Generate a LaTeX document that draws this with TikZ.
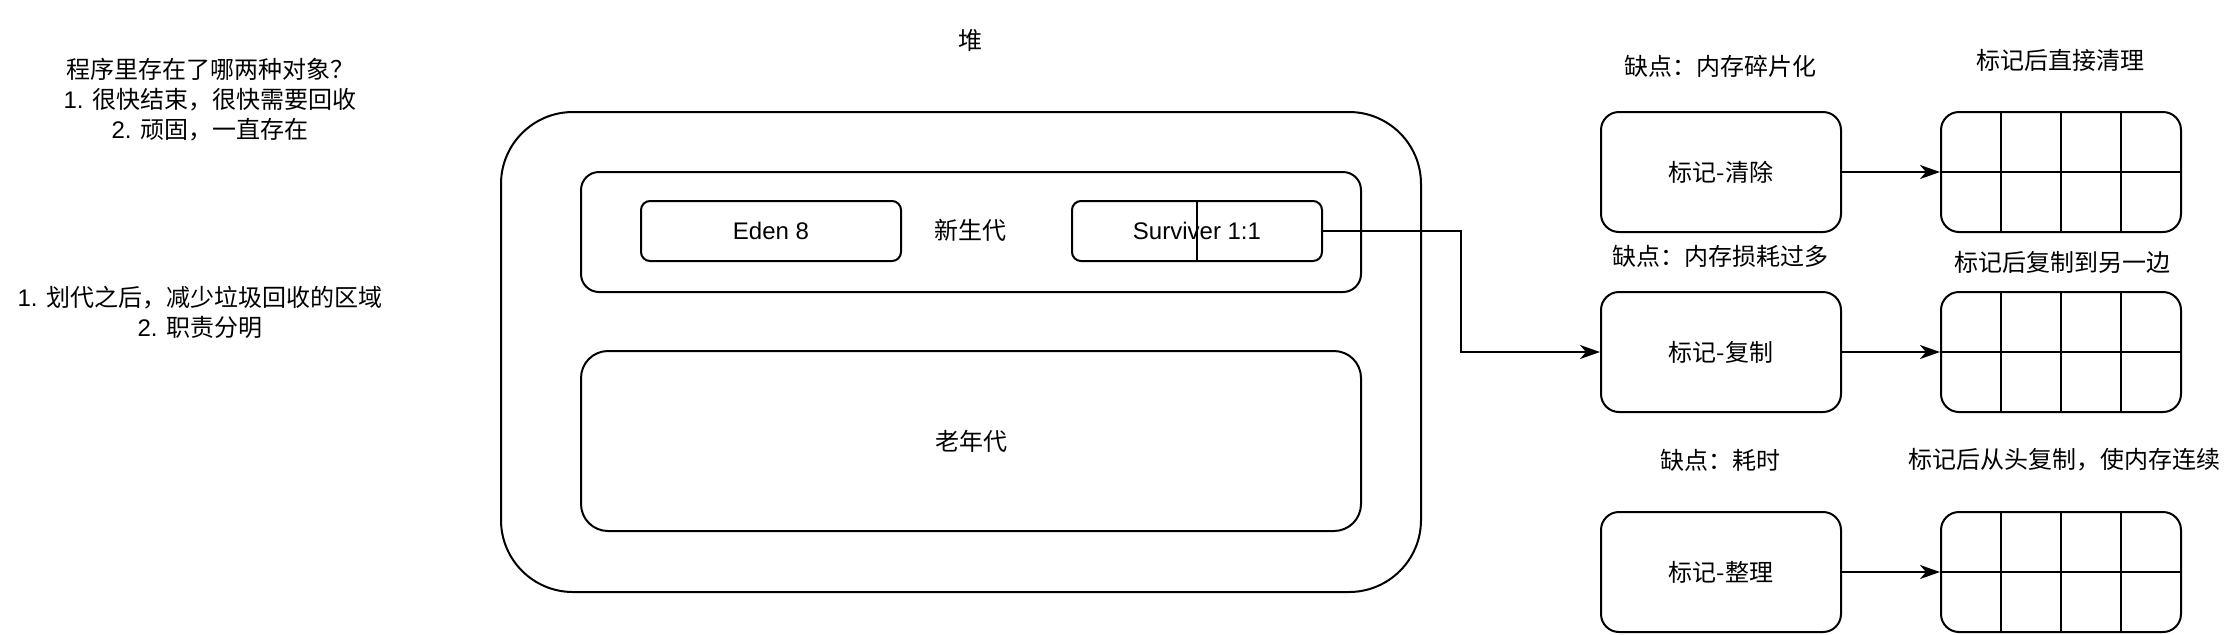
\documentclass[tikz,border=0pt]{standalone}
\usepackage{fontspec}
\setmainfont{Noto Sans CJK SC}
\newfontfamily\lat{Liberation Sans}
\usetikzlibrary{arrows.meta}
\tikzset{
  base/.style={font=\fontsize{12pt}{15pt}\selectfont, inner sep=0pt, align=center},
  rbox/.style={base, draw, rounded corners=#1},
  lbl/.style={base},
  arr/.style={-{Stealth[length=10pt,width=7pt,inset=3pt]}},
}
\begin{document}
\begin{tikzpicture}[x=1pt,y=-1pt,line width=1pt]
\useasboundingbox (0,0) rectangle (1120,317);

% heap
\node[lbl] (heaplbl) at (485,20) {堆};
\node[rbox=36pt, minimum width=460pt, minimum height=240pt] (heap) at (480.5,176) {};
\node[rbox=9pt, minimum width=390pt, minimum height=60pt] (young) at (485.5,116) {};
\node[lbl] (younglbl) at (485,115) {新生代};
\node[rbox=4.5pt, minimum width=130pt, minimum height=30pt] (eden) at (385.5,115.5) {\lat Eden 8};
\node[rbox=4.5pt, minimum width=125pt, minimum height=30pt] (surv) at (598.5,115.5) {\lat Surviver 1:1};
\draw (surv.north) -- (surv.south);
\node[rbox=13.5pt, minimum width=390pt, minimum height=90pt] (old) at (485.5,220.5) {老年代};

% left notes
\node[lbl] (note1) at (105,50) {程序里存在了哪两种对象？\\{\lat 1. }很快结束，很快需要回收\\{\lat 2. }顽固，一直存在};
\node[lbl] (note2) at (100,156) {{\lat 1. }划代之后，减少垃圾回收的区域\\{\lat 2. }职责分明};

% algorithms
\node[rbox=9pt, minimum width=120pt, minimum height=60pt] (clear) at (860.5,86) {标记-清除};
\node[rbox=9pt, minimum width=120pt, minimum height=60pt] (copy) at (860.5,176) {标记-复制};
\node[rbox=9pt, minimum width=120pt, minimum height=60pt] (tidy) at (860.5,286) {标记-整理};

\node[lbl] (c1) at (860,33) {缺点：内存碎片化};
\node[lbl] (c2) at (860,128) {缺点：内存损耗过多};
\node[lbl] (c3) at (860,230) {缺点：耗时};

\node[lbl] (d1) at (1030,30) {标记后直接清理};
\node[lbl] (d2) at (1031,131) {标记后复制到另一边};
\node[lbl] (d3) at (1032,230) {标记后从头复制，使内存连续};

% grids
\foreach \n/\y in {g1/86,g2/176,g3/286}{
  \node[rbox=9pt, minimum width=120pt, minimum height=60pt] (\n) at (1030.5,\y) {};
  \draw (\n.west) -- (\n.east);
  \foreach \dx in {-30,0,30}{
    \draw ([xshift=\dx pt]\n.north) -- ([xshift=\dx pt]\n.south);
  }
}

% connectors
\draw[arr] (clear.east) -- (g1.west);
\draw[arr] (copy.east) -- (g2.west);
\draw[arr] (tidy.east) -- (g3.west);
\draw[arr] (surv.east) -- ++(69,0) |- (copy.west);
\end{tikzpicture}
\end{document}
